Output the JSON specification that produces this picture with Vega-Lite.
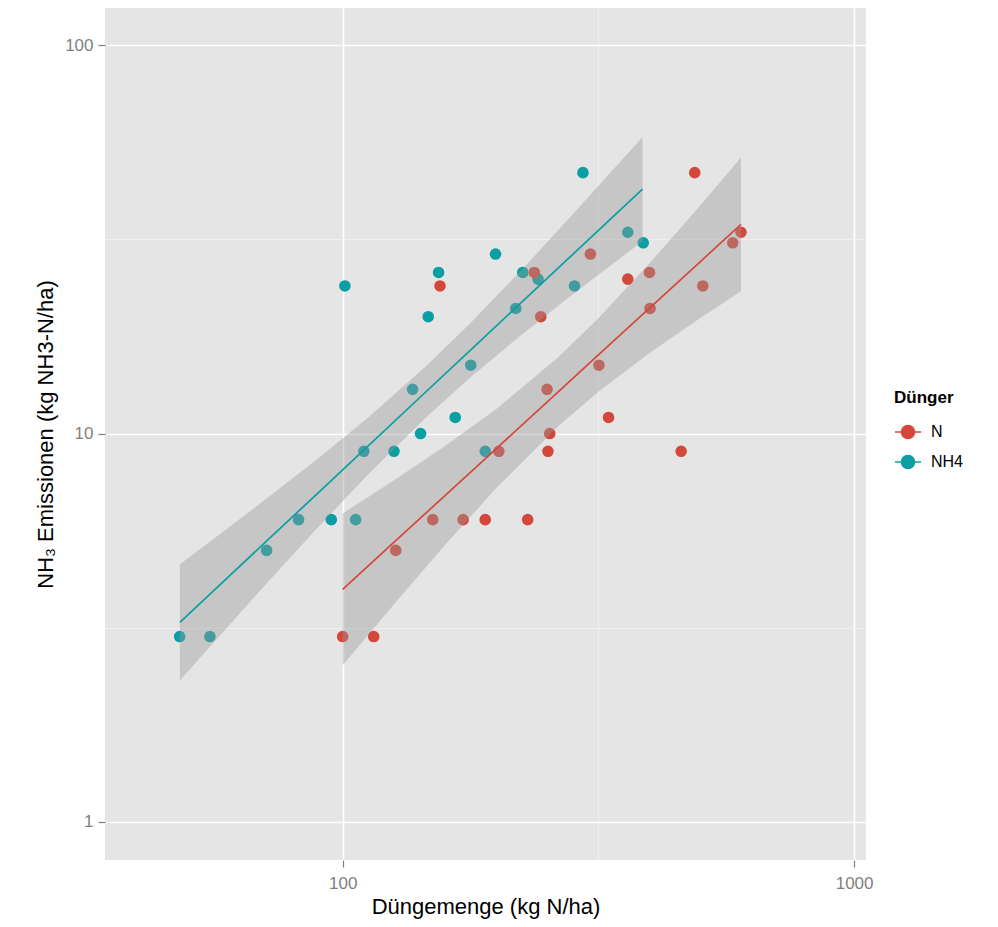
{
  "$schema": "https://vega.github.io/schema/vega-lite/v6.json",
  "width": 761,
  "height": 852,
  "autosize": {"type": "none"},
  "padding": {"left": 105, "top": 8, "right": 132, "bottom": 67},
  "background": "white",
  "config": {
    "view": {"fill": "#e5e5e5", "stroke": null},
    "font": "Liberation Sans",
    "axis": {
      "domain": false,
      "labelColor": "#7f7f7f",
      "labelFontSize": 17,
      "labelFont": "Liberation Sans",
      "tickSize": 7,
      "tickWidth": 1.2,
      "titleFont": "Liberation Sans",
      "titleFontSize": 22,
      "titleFontWeight": "normal",
      "titleColor": "#000000"
    }
  },
  "datasets": {
    "points": [
      {"duenger": "NH4", "menge": 48, "emission": 3},
      {"duenger": "NH4", "menge": 55, "emission": 3},
      {"duenger": "NH4", "menge": 71, "emission": 5},
      {"duenger": "NH4", "menge": 82, "emission": 6},
      {"duenger": "NH4", "menge": 95, "emission": 6},
      {"duenger": "NH4", "menge": 106, "emission": 6},
      {"duenger": "NH4", "menge": 101, "emission": 24},
      {"duenger": "NH4", "menge": 110, "emission": 9},
      {"duenger": "NH4", "menge": 126, "emission": 9},
      {"duenger": "NH4", "menge": 137, "emission": 13},
      {"duenger": "NH4", "menge": 142, "emission": 10},
      {"duenger": "NH4", "menge": 147, "emission": 20},
      {"duenger": "NH4", "menge": 154, "emission": 26},
      {"duenger": "NH4", "menge": 166, "emission": 11},
      {"duenger": "NH4", "menge": 178, "emission": 15},
      {"duenger": "NH4", "menge": 190, "emission": 9},
      {"duenger": "NH4", "menge": 199, "emission": 29},
      {"duenger": "NH4", "menge": 218, "emission": 21},
      {"duenger": "NH4", "menge": 225, "emission": 26},
      {"duenger": "NH4", "menge": 241, "emission": 25},
      {"duenger": "NH4", "menge": 284, "emission": 24},
      {"duenger": "NH4", "menge": 295, "emission": 47},
      {"duenger": "NH4", "menge": 361, "emission": 33},
      {"duenger": "NH4", "menge": 387, "emission": 31},
      {"duenger": "N", "menge": 100, "emission": 3},
      {"duenger": "N", "menge": 115, "emission": 3},
      {"duenger": "N", "menge": 127, "emission": 5},
      {"duenger": "N", "menge": 150, "emission": 6},
      {"duenger": "N", "menge": 172, "emission": 6},
      {"duenger": "N", "menge": 190, "emission": 6},
      {"duenger": "N", "menge": 230, "emission": 6},
      {"duenger": "N", "menge": 202, "emission": 9},
      {"duenger": "N", "menge": 252, "emission": 9},
      {"duenger": "N", "menge": 254, "emission": 10},
      {"duenger": "N", "menge": 251, "emission": 13},
      {"duenger": "N", "menge": 317, "emission": 15},
      {"duenger": "N", "menge": 331, "emission": 11},
      {"duenger": "N", "menge": 459, "emission": 9},
      {"duenger": "N", "menge": 244, "emission": 20},
      {"duenger": "N", "menge": 237, "emission": 26},
      {"duenger": "N", "menge": 305, "emission": 29},
      {"duenger": "N", "menge": 155, "emission": 24},
      {"duenger": "N", "menge": 361, "emission": 25},
      {"duenger": "N", "menge": 398, "emission": 26},
      {"duenger": "N", "menge": 399, "emission": 21},
      {"duenger": "N", "menge": 506, "emission": 24},
      {"duenger": "N", "menge": 488, "emission": 47},
      {"duenger": "N", "menge": 579, "emission": 31},
      {"duenger": "N", "menge": 601, "emission": 33}
    ],
    "fit": [
      {"duenger": "NH4", "menge": 48.05, "fit": 3.264, "lo": 2.312, "hi": 4.607},
      {"duenger": "NH4", "menge": 56.23, "fit": 3.963, "lo": 2.919, "hi": 5.383},
      {"duenger": "NH4", "menge": 70.79, "fit": 5.266, "lo": 4.092, "hi": 6.778},
      {"duenger": "NH4", "menge": 89.13, "fit": 6.995, "lo": 5.700, "hi": 8.584},
      {"duenger": "NH4", "menge": 112.2, "fit": 9.294, "lo": 7.854, "hi": 10.997},
      {"duenger": "NH4", "menge": 146.2, "fit": 12.89, "lo": 11.07, "hi": 14.99},
      {"duenger": "NH4", "menge": 177.8, "fit": 16.41, "lo": 13.96, "hi": 19.27},
      {"duenger": "NH4", "menge": 223.9, "fit": 21.79, "lo": 17.98, "hi": 26.41},
      {"duenger": "NH4", "menge": 281.8, "fit": 28.95, "lo": 22.84, "hi": 36.70},
      {"duenger": "NH4", "menge": 385.8, "fit": 42.64, "lo": 31.29, "hi": 58.10},
      {"duenger": "N", "menge": 100, "fit": 3.969, "lo": 2.530, "hi": 6.226},
      {"duenger": "N", "menge": 125.9, "fit": 5.241, "lo": 3.628, "hi": 7.572},
      {"duenger": "N", "menge": 158.5, "fit": 6.920, "lo": 5.160, "hi": 9.282},
      {"duenger": "N", "menge": 199.5, "fit": 9.137, "lo": 7.224, "hi": 11.556},
      {"duenger": "N", "menge": 263.9, "fit": 12.81, "lo": 10.44, "hi": 15.72},
      {"duenger": "N", "menge": 316.2, "fit": 15.94, "lo": 12.82, "hi": 19.81},
      {"duenger": "N", "menge": 398.1, "fit": 21.04, "lo": 16.13, "hi": 27.44},
      {"duenger": "N", "menge": 501.2, "fit": 27.78, "lo": 19.88, "hi": 38.82},
      {"duenger": "N", "menge": 601, "fit": 34.58, "lo": 23.26, "hi": 51.43}
    ]
  },
  "layer": [
    {
      "data": {"name": "points"},
      "mark": {"type": "point", "shape": "circle", "filled": true, "size": 135, "opacity": 1},
      "encoding": {
        "x": {
          "field": "menge", "type": "quantitative",
          "scale": {"type": "log", "domain": [34.3, 1055], "nice": false},
          "axis": {
            "title": "Düngemenge (kg N/ha)",
            "values": [100, 316.2278, 1000],
            "labelExpr": "datum.value == 100 || datum.value == 1000 ? datum.value + '' : ''",
            "gridColor": {"condition": {"test": "datum.value == 100 || datum.value == 1000", "value": "#ffffff"}, "value": "#f2f2f2"},
            "gridWidth": {"condition": {"test": "datum.value == 100 || datum.value == 1000", "value": 1.6}, "value": 0.8},
            "tickColor": {"condition": {"test": "datum.value == 100 || datum.value == 1000", "value": "#7f7f7f"}, "value": "transparent"},
            "labelPadding": 8,
            "titleX": 380.5,
            "titleY": 53,
            "titleAlign": "center",
            "titleBaseline": "alphabetic"
          }
        },
        "y": {
          "field": "emission", "type": "quantitative",
          "scale": {"type": "log", "domain": [0.797, 124.8], "nice": false},
          "axis": {
            "title": "NH₃ Emissionen (kg NH3-N/ha)",
            "values": [1, 3.162278, 10, 31.62278, 100],
            "labelExpr": "datum.value == 1 || datum.value == 10 || datum.value == 100 ? datum.value + '' : ''",
            "gridColor": {"condition": {"test": "datum.value == 1 || datum.value == 10 || datum.value == 100", "value": "#ffffff"}, "value": "#f2f2f2"},
            "gridWidth": {"condition": {"test": "datum.value == 1 || datum.value == 10 || datum.value == 100", "value": 1.6}, "value": 0.8},
            "tickColor": {"condition": {"test": "datum.value == 1 || datum.value == 10 || datum.value == 100", "value": "#7f7f7f"}, "value": "transparent"},
            "labelPadding": 5,
            "titleX": -60,
            "titleY": 426,
            "titleAngle": -90,
            "titleAlign": "center",
            "titleBaseline": "middle"
          }
        },
        "color": {
          "field": "duenger", "type": "nominal",
          "scale": {"domain": ["N", "NH4"], "range": ["#d4473b", "#0b9ea3"]},
          "legend": {
            "title": "Dünger",
            "orient": "none",
            "legendX": 789,
            "legendY": 382,
            "padding": 0,
            "symbolType": "M-1,0H1M0.5,0A0.5,0.5,0,1,1,-0.5,0A0.5,0.5,0,1,1,0.5,0Z",
            "symbolSize": 676,
            "symbolStrokeWidth": 1.5,
            "titleFontSize": 17,
            "titleFontWeight": "bold",
            "titleColor": "#000000",
            "titlePadding": 11,
            "labelFontSize": 16,
            "labelColor": "#000000",
            "labelOffset": 9,
            "rowPadding": 6,
            "encode": {"symbols": {"update": {"stroke": {"scale": "color", "field": "value"}, "opacity": {"value": 1}}}}
          }
        }
      }
    },
    {
      "data": {"name": "fit"},
      "mark": {"type": "area", "fill": "#999999", "opacity": 0.4},
      "encoding": {
        "x": {"field": "menge", "type": "quantitative"},
        "y": {"field": "lo", "type": "quantitative"},
        "y2": {"field": "hi"},
        "detail": {"field": "duenger", "type": "nominal"}
      }
    },
    {
      "data": {"name": "fit"},
      "mark": {"type": "line", "strokeWidth": 1.7},
      "encoding": {
        "x": {"field": "menge", "type": "quantitative"},
        "y": {"field": "fit", "type": "quantitative"},
        "color": {"field": "duenger", "type": "nominal", "legend": null}
      }
    }
  ]
}
